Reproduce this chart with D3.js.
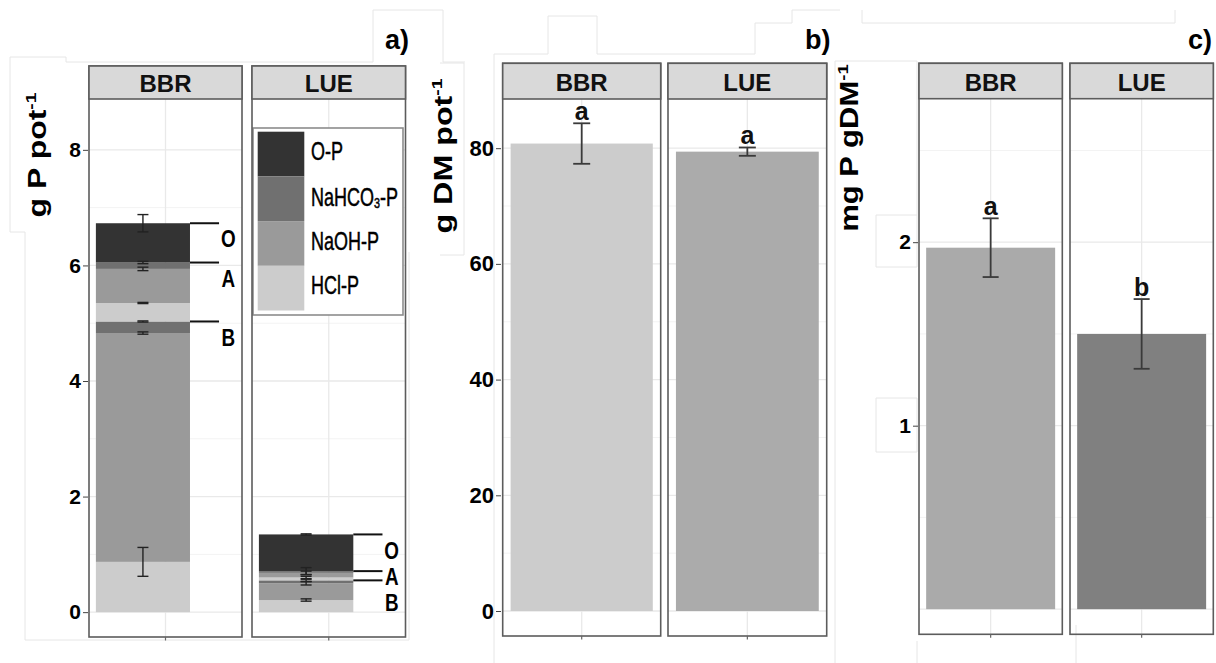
<!DOCTYPE html>
<html>
<head>
<meta charset="utf-8">
<script src="https://cdn.jsdelivr.net/npm/d3@7"></script>
<style>
  body { margin: 0; background: #ffffff; }
  svg { display: block; }
</style>
</head>
<body>
<svg id="fig" width="1216" height="663"></svg>
<script>
// ---- data ----
const sites = ["BBR", "LUE"];
const horizons = ["B", "A", "O"];                       // stacked bottom to top
const fractions = ["HCl-P", "NaOH-P", "NaHCO3-P", "O-P"]; // stacked bottom to top inside a horizon

// g P per pot: rows = horizons, columns = fractions
const pBBR = [[0.87, 3.96, 0.20, 0], [0.32, 0.59, 0.11, 0], [0, 0, 0, 0.68]];
const pLUE = [[0.21, 0.29, 0.05, 0], [0.05, 0.08, 0.03, 0], [0, 0, 0, 0.635]];
// standard errors at the top of each fraction (null = no bar)
const seBBR = [[0.25, 0.02, 0.01, null], [0.01, 0.03, 0.02, null], [null, null, null, 0.15]];
const seLUE = [[0.02, 0.03, 0.02, null], [0.02, 0.03, 0.06, null], [null, null, null, 0.01]];
const ticksA = [0, 2, 4, 6, 8];

// g dry matter per pot
const dryMatter = [80.8, 79.4];
const dryMatterSE = [3.5, 0.72];
const dryMatterLetters = ["a", "a"];
const ticksB = [0, 20, 40, 60, 80];

// mg P per g dry matter
const pConc = [1.97, 1.50];
const pConcSE = [0.16, 0.19];
const pConcLetters = ["a", "b"];
const ticksC = [1, 2];

const fractionColors = ["#cccccc", "#9a9a9a", "#707070", "#333333"];
const dmColors = ["#cccccc", "#ababab"];
const concColors = ["#aaaaaa", "#808080"];

// ---- helpers ----
const FONT = "'Liberation Sans', Arial, Helvetica, sans-serif";
const svg = d3.select("#fig");

// faint outlines of the assembled figure sheets
const sheet = svg.append("g").attr("fill", "none").attr("stroke", "#e6e6e6").attr("stroke-width", 1);
[
  "M10,232V57H66V62H373V10H443V62H465",
  "M10,232H25V640H409V252",
  "M440,63H464V255H440",
  "M494,663V54H548V16H597V54H755V23H792V10H840",
  "M862,10V23H1175V10",
  "M835,663V61H917V215",
  "M876,215H917V267H876Z",
  "M876,398H917V452H876Z",
  "M917,641V663",
  "M1076,625V663"
].forEach(d => sheet.append("path").attr("d", d));

function facetBack(g, fx, y, stripBottom, bottom, major, minor) {
  const [x0, x1] = fx.range();
  g.append("g").selectAll("line").data(minor).join("line")
    .attr("x1", x0).attr("x2", x1).attr("y1", d => y(d)).attr("y2", d => y(d))
    .attr("stroke", "#f3f3f3").attr("stroke-width", 1);
  g.append("g").selectAll("line").data(major).join("line")
    .attr("x1", x0).attr("x2", x1).attr("y1", d => y(d)).attr("y2", d => y(d))
    .attr("stroke", "#e9e9e9").attr("stroke-width", 1.3);
  g.append("line").attr("x1", fx(0.5)).attr("x2", fx(0.5))
    .attr("y1", stripBottom).attr("y2", bottom)
    .attr("stroke", "#e9e9e9").attr("stroke-width", 1.3);
}

function facetFrame(g, fx, top, stripBottom, bottom, name) {
  const [x0, x1] = fx.range();
  g.append("rect").attr("x", x0).attr("y", top).attr("width", x1 - x0).attr("height", bottom - top)
    .attr("fill", "none").attr("stroke", "#5c5c5c").attr("stroke-width", 1.6);
  g.append("rect").attr("x", x0).attr("y", top).attr("width", x1 - x0).attr("height", stripBottom - top)
    .attr("fill", "#d9d9d9").attr("stroke", "#5c5c5c").attr("stroke-width", 1.6);
  g.append("text").attr("x", (x0 + x1) / 2).attr("y", (top + stripBottom) / 2 + 1)
    .attr("text-anchor", "middle").attr("dominant-baseline", "central")
    .attr("font-family", FONT).attr("font-weight", "bold").attr("font-size", 24)
    .attr("fill", "#111").text(name);
  g.append("line").attr("x1", fx(0.5)).attr("x2", fx(0.5))
    .attr("y1", bottom).attr("y2", bottom + 3.5)
    .attr("stroke", "#666").attr("stroke-width", 1.2);
}

function errorBar(g, cx, yTop, yBot, cap, color, width) {
  g.append("line").attr("x1", cx).attr("x2", cx).attr("y1", yTop).attr("y2", yBot)
    .attr("stroke", color).attr("stroke-width", width);
  [yTop, yBot].forEach(yy => g.append("line")
    .attr("x1", cx - cap / 2).attr("x2", cx + cap / 2).attr("y1", yy).attr("y2", yy)
    .attr("stroke", color).attr("stroke-width", width));
}

function yAxis(x, y, ticks, size) {
  const ax = svg.append("g").attr("transform", `translate(${x},0)`)
    .call(d3.axisLeft(y).tickValues(ticks).tickSize(5).tickPadding(2).tickFormat(d3.format("d")));
  ax.select(".domain").remove();
  ax.selectAll(".tick line").attr("stroke", "#444").attr("stroke-width", 1);
  ax.selectAll(".tick text").attr("font-family", FONT).attr("font-weight", "bold")
    .attr("font-size", size).attr("fill", "#000");
  return ax;
}

function yTitle(x, y, sx, main, sup) {
  const t = svg.append("g").attr("transform", `translate(${x},${y}) rotate(-90) scale(${sx},1)`)
    .append("text").attr("text-anchor", "middle")
    .attr("font-family", FONT).attr("font-weight", "bold").attr("font-size", 25).attr("fill", "#000");
  t.append("tspan").text(main);
  t.append("tspan").attr("font-size", 15).attr("dy", -10).text(sup);
}

function panelLabel(x, text) {
  svg.append("text").attr("x", x).attr("y", 49)
    .attr("font-family", FONT).attr("font-weight", "bold").attr("font-size", 27)
    .attr("fill", "#000").text(text);
}

// ---- a) soil P fractions per horizon ----
const yA = d3.scaleLinear().domain([-0.43, 8.88]).range([637, 99]);
const facetsA = [[89, 242], [252, 405.5]];
const topA = 66, stripA = 99, bottomA = 637;

sites.forEach((site, i) => {
  const fx = d3.scaleLinear().domain([0, 1]).range(facetsA[i]);
  const g = svg.append("g");
  facetBack(g, fx, yA, stripA, bottomA, d3.range(0, 9, 2), d3.range(1, 9, 2));

  const vals = i ? pLUE : pBBR;
  const ses = i ? seLUE : seBBR;
  const segs = [];
  horizons.forEach((h, hi) => fractions.forEach((f, fi) =>
    segs.push({ h, f, fi, v: vals[hi][fi], se: ses[hi][fi] })));
  const tops = d3.cumsum(segs, d => d.v);
  segs.forEach((s, k) => { s.y1 = tops[k]; s.y0 = tops[k] - s.v; });

  const bx0 = fx(0.045), bx1 = fx(0.66), bcx = (bx0 + bx1) / 2;
  g.append("g").selectAll("rect").data(segs.filter(s => s.v > 0)).join("rect")
    .attr("x", bx0).attr("width", bx1 - bx0)
    .attr("y", d => yA(d.y1)).attr("height", d => yA(d.y0) - yA(d.y1))
    .attr("fill", d => fractionColors[d.fi]);

  const eg = g.append("g");
  segs.filter(s => s.se != null).forEach(s =>
    errorBar(eg, bcx, yA(s.y1 + s.se), yA(s.y1 - s.se), 11, "#222", 1.4));

  // horizon brackets and names, names kept apart when the horizons are thin
  const hTops = Array.from(d3.cumsum(vals.map(r => d3.sum(r))));
  const bg = g.append("g");
  let prevY = -Infinity;
  horizons.map((h, hi) => ({ h, hi })).reverse().forEach(({ h, hi }) => {
    const ly = yA(hTops[hi]);
    const below = hi > 0 ? yA(hTops[hi - 1]) : yA(0);
    bg.append("line").attr("x1", bx1).attr("x2", fx(0.85)).attr("y1", ly).attr("y2", ly)
      .attr("stroke", "#111").attr("stroke-width", 2);
    const ty = Math.max(Math.min((ly + below) / 2, ly + 16), prevY + 26);
    prevY = ty;
    bg.append("text").attr("transform", `translate(${fx(0.91)},${ty}) scale(0.82,1)`)
      .attr("text-anchor", "middle").attr("dominant-baseline", "central")
      .attr("font-family", FONT).attr("font-weight", "bold").attr("font-size", 23)
      .attr("fill", "#000").text(h);
  });

  if (i === 1) {
    // legend of P fractions
    const lg = g.append("g");
    lg.append("rect").attr("x", 253).attr("y", 128).attr("width", 150).attr("height", 187)
      .attr("fill", "#fff").attr("stroke", "#8c8c8c").attr("stroke-width", 1.6);
    const order = fractions.map((f, fi) => ({ f, fi })).reverse();
    order.forEach((d, k) => {
      const ky = 131.7 + k * 44.7;
      lg.append("rect").attr("x", 257.7).attr("y", ky).attr("width", 46.6).attr("height", 44.7)
        .attr("fill", fractionColors[d.fi]);
      const t = lg.append("text").attr("transform", `translate(311,${ky + 20}) scale(0.72,1)`)
        .attr("dominant-baseline", "central")
        .attr("font-family", FONT).attr("font-size", 25).attr("fill", "#000")
        .attr("stroke", "#000").attr("stroke-width", 0.5);
      const m = d.f.match(/^(NaHCO)(3)(-P)$/);
      if (m) {
        t.append("tspan").text(m[1]);
        t.append("tspan").attr("font-size", 15).attr("dy", 6).text(m[2]);
        t.append("tspan").attr("font-size", 25).attr("dy", -6).text(m[3]);
      } else {
        t.text(d.f);
      }
    });
  }
  facetFrame(g, fx, topA, stripA, bottomA, site);
});
yAxis(88, yA, ticksA, 21);
yTitle(46, 155, 1.28, "g P pot", "-1");
panelLabel(385, "a)");

// ---- simple bar panels (b and c) ----
function barPanel(facets, y, top, strip, bottom, values, ses, letters, colors, major, minor, cap) {
  sites.forEach((site, i) => {
    const fx = d3.scaleLinear().domain([0, 1]).range(facets[i]);
    const g = svg.append("g");
    facetBack(g, fx, y, strip, bottom, major, minor);
    const x0 = fx(0.05), x1 = fx(0.95), cx = fx(0.5);
    g.append("rect").datum(values[i])
      .attr("x", x0).attr("width", x1 - x0)
      .attr("y", d => y(d)).attr("height", d => y(0) - y(d))
      .attr("fill", colors[i]);
    errorBar(g, cx, y(values[i] + ses[i]), y(values[i] - ses[i]), cap, "#3a3a3a", 1.8);
    g.append("text").attr("x", cx).attr("y", y(values[i] + ses[i]) - 12)
      .attr("text-anchor", "middle").attr("dominant-baseline", "central")
      .attr("font-family", FONT).attr("font-weight", "bold").attr("font-size", 25)
      .attr("fill", "#111").text(letters[i]);
    facetFrame(g, fx, top, strip, bottom, site);
  });
}

// b) dry matter
const yB = d3.scaleLinear().domain([-4.32, 88.5]).range([636, 99]);
barPanel([[502.7, 660.7], [668, 826.7]], yB, 63.3, 99, 636,
  dryMatter, dryMatterSE, dryMatterLetters, dmColors,
  d3.range(0, 81, 20), d3.range(10, 90, 20), 17);
yAxis(501, yB, ticksB, 22);
yTitle(452, 156, 1.29, "g DM pot", "-1");
panelLabel(805, "b)");

// c) P concentration in dry matter
const yC = d3.scaleLinear().domain([-0.137, 2.782]).range([634.3, 98.7]);
barPanel([[919, 1062.3], [1070, 1213.3]], yC, 63.3, 98.7, 634.3,
  pConc, pConcSE, pConcLetters, concColors,
  [0, 1, 2], [0.5, 1.5, 2.5], 16);
yAxis(918, yC, ticksC, 21);
yTitle(858, 148, 1.24, "mg P gDM", "-1");
panelLabel(1188, "c)");
</script>
</body>
</html>
